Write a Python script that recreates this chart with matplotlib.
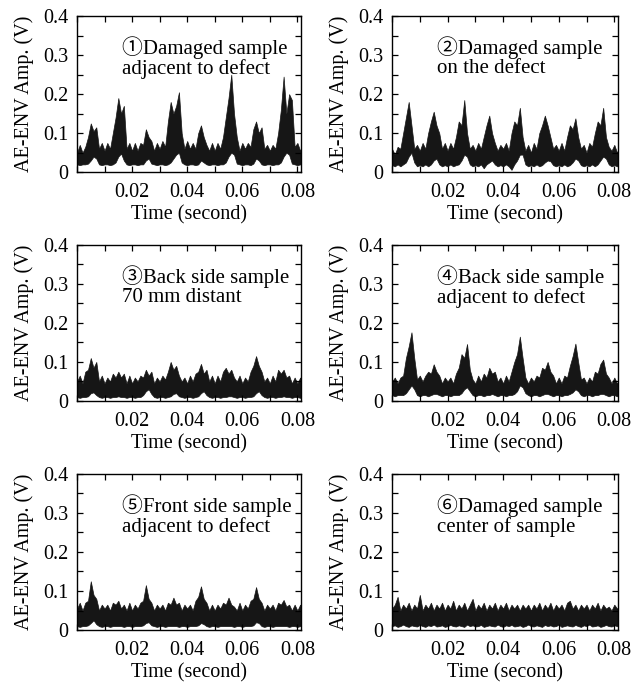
import numpy as np
import matplotlib
matplotlib.use("Agg")
import matplotlib.pyplot as plt
from matplotlib.ticker import MultipleLocator

plt.rcParams['font.family'] = ['Liberation Serif', 'Noto Sans CJK JP', 'DejaVu Sans']
plt.rcParams['font.size'] = 14.5

# time axis in seconds, one reading per millisecond
t_ms = np.arange(0, 83)
t = t_ms / 1000.0

labels = [
    "\u2460Damaged sample\nadjacent to defect",
    "\u2461Damaged sample\non the defect",
    "\u2462Back side sample\n70 mm distant",
    "\u2463Back side sample\nadjacent to defect",
    "\u2464Front side sample\nadjacent to defect",
    "\u2465Damaged sample\ncenter of sample",
]

# upper / lower envelope of the AE-ENV signal (V)
upper1 = [0.05, 0.07, 0.05, 0.065, 0.09, 0.125, 0.105, 0.115, 0.06, 0.075,
          0.055, 0.075, 0.06, 0.1, 0.14, 0.19, 0.15, 0.17, 0.06, 0.075,
          0.055, 0.075, 0.055, 0.075, 0.07, 0.11, 0.09, 0.08, 0.055, 0.075,
          0.06, 0.08, 0.065, 0.13, 0.18, 0.15, 0.17, 0.205, 0.1, 0.06,
          0.08, 0.06, 0.075, 0.06, 0.1, 0.12, 0.09, 0.07, 0.055, 0.075,
          0.055, 0.075, 0.06, 0.09, 0.14, 0.19, 0.25, 0.15, 0.09, 0.055,
          0.075, 0.06, 0.075, 0.065, 0.11, 0.13, 0.1, 0.115, 0.06, 0.07,
          0.055, 0.07, 0.06, 0.1, 0.16, 0.245, 0.15, 0.2, 0.185, 0.065,
          0.075, 0.055, 0.07]
lower1 = [0.02, 0.018, 0.02, 0.02, 0.022, 0.03, 0.04, 0.035, 0.02, 0.018,
          0.02, 0.02, 0.018, 0.02, 0.025, 0.04, 0.048, 0.03, 0.02, 0.018,
          0.02, 0.02, 0.018, 0.02, 0.02, 0.03, 0.035, 0.022, 0.02, 0.018,
          0.02, 0.02, 0.018, 0.02, 0.025, 0.035, 0.045, 0.05, 0.025, 0.02,
          0.018, 0.02, 0.02, 0.018, 0.02, 0.03, 0.025, 0.02, 0.018, 0.02,
          0.02, 0.018, 0.02, 0.02, 0.025, 0.04, 0.05, 0.045, 0.022, 0.02,
          0.018, 0.02, 0.02, 0.018, 0.022, 0.035, 0.03, 0.02, 0.018, 0.02,
          0.02, 0.018, 0.02, 0.02, 0.025, 0.04, 0.05, 0.045, 0.022, 0.02,
          0.018, 0.02, 0.02]

upper2 = [0.06, 0.045, 0.065, 0.06, 0.1, 0.14, 0.18, 0.12, 0.06, 0.07,
          0.055, 0.075, 0.06, 0.1, 0.13, 0.155, 0.12, 0.1, 0.06, 0.075,
          0.055, 0.075, 0.06, 0.09, 0.13, 0.12, 0.185, 0.1, 0.06, 0.07,
          0.055, 0.075, 0.06, 0.09, 0.12, 0.145, 0.1, 0.075, 0.055, 0.07,
          0.06, 0.075, 0.055, 0.1, 0.13, 0.12, 0.165, 0.09, 0.055, 0.07,
          0.05, 0.075, 0.06, 0.1, 0.12, 0.145, 0.12, 0.09, 0.06, 0.07,
          0.055, 0.075, 0.055, 0.09, 0.12, 0.11, 0.138, 0.09, 0.06, 0.07,
          0.05, 0.075, 0.065, 0.1, 0.13, 0.12, 0.165, 0.09, 0.065, 0.055,
          0.07, 0.05, 0.065]
lower2 = [0.018, 0.015, 0.02, 0.015, 0.02, 0.025, 0.04, 0.05, 0.025, 0.015,
          0.018, 0.015, 0.02, 0.015, 0.02, 0.03, 0.035, 0.02, 0.015, 0.018,
          0.015, 0.02, 0.015, 0.018, 0.02, 0.03, 0.045, 0.04, 0.02, 0.015,
          0.018, 0.015, 0.02, 0.01, 0.02, 0.025, 0.03, 0.02, 0.015, 0.018,
          0.015, 0.02, 0.015, 0.006, 0.02, 0.03, 0.045, 0.045, 0.02, 0.015,
          0.018, 0.015, 0.02, 0.015, 0.018, 0.025, 0.03, 0.028, 0.018, 0.015,
          0.018, 0.015, 0.02, 0.015, 0.018, 0.025, 0.035, 0.03, 0.018, 0.015,
          0.018, 0.015, 0.02, 0.015, 0.02, 0.03, 0.04, 0.035, 0.02, 0.015,
          0.018, 0.015, 0.018]

upper3 = [0.05, 0.065, 0.045, 0.075, 0.08, 0.11, 0.085, 0.1, 0.05, 0.065,
          0.045, 0.06, 0.05, 0.07, 0.06, 0.075, 0.06, 0.07, 0.045, 0.065,
          0.045, 0.06, 0.05, 0.065, 0.06, 0.08, 0.065, 0.075, 0.045, 0.06,
          0.05, 0.065, 0.055, 0.075, 0.1, 0.08, 0.09, 0.065, 0.05, 0.06,
          0.045, 0.065, 0.05, 0.07, 0.075, 0.095, 0.07, 0.08, 0.05, 0.065,
          0.045, 0.065, 0.05, 0.075, 0.085, 0.07, 0.08, 0.06, 0.05, 0.065,
          0.045, 0.06, 0.05, 0.075, 0.09, 0.115, 0.09, 0.075, 0.05, 0.06,
          0.045, 0.065, 0.05, 0.08, 0.07, 0.08, 0.06, 0.065, 0.045, 0.06,
          0.045, 0.06, 0.05]
lower3 = [0.01, 0.008, 0.01, 0.01, 0.012, 0.02, 0.022, 0.015, 0.01, 0.008,
          0.01, 0.01, 0.008, 0.01, 0.01, 0.012, 0.01, 0.01, 0.008, 0.01,
          0.01, 0.008, 0.01, 0.01, 0.015, 0.025, 0.03, 0.018, 0.01, 0.008,
          0.01, 0.01, 0.008, 0.01, 0.012, 0.018, 0.02, 0.012, 0.01, 0.008,
          0.01, 0.01, 0.008, 0.01, 0.012, 0.02, 0.025, 0.015, 0.01, 0.008,
          0.01, 0.01, 0.008, 0.01, 0.01, 0.012, 0.012, 0.01, 0.008, 0.01,
          0.01, 0.008, 0.01, 0.01, 0.012, 0.02, 0.025, 0.015, 0.01, 0.008,
          0.01, 0.01, 0.008, 0.01, 0.01, 0.012, 0.01, 0.01, 0.008, 0.01,
          0.01, 0.008, 0.01]

upper4 = [0.05, 0.06, 0.045, 0.06, 0.065, 0.11, 0.14, 0.176, 0.11, 0.055,
          0.065, 0.05, 0.065, 0.075, 0.07, 0.094, 0.075, 0.065, 0.045, 0.06,
          0.05, 0.06, 0.045, 0.07, 0.085, 0.12, 0.11, 0.146, 0.08, 0.055,
          0.045, 0.065, 0.05, 0.07, 0.06, 0.085, 0.07, 0.075, 0.05, 0.06,
          0.045, 0.065, 0.05, 0.075, 0.1, 0.12, 0.165, 0.11, 0.06, 0.045,
          0.06, 0.05, 0.065, 0.06, 0.085, 0.08, 0.1, 0.075, 0.065, 0.045,
          0.06, 0.045, 0.065, 0.06, 0.09, 0.115, 0.147, 0.1, 0.055, 0.06,
          0.045, 0.06, 0.05, 0.075, 0.07, 0.095, 0.106, 0.07, 0.06, 0.045,
          0.06, 0.045, 0.055]
lower4 = [0.015, 0.012, 0.015, 0.015, 0.015, 0.02, 0.03, 0.04, 0.03, 0.015,
          0.012, 0.015, 0.015, 0.012, 0.015, 0.018, 0.018, 0.015, 0.012, 0.015,
          0.015, 0.012, 0.015, 0.015, 0.015, 0.02, 0.03, 0.035, 0.025, 0.015,
          0.012, 0.015, 0.015, 0.012, 0.015, 0.015, 0.018, 0.015, 0.012, 0.015,
          0.015, 0.012, 0.015, 0.015, 0.018, 0.025, 0.04, 0.035, 0.02, 0.015,
          0.012, 0.015, 0.015, 0.012, 0.015, 0.018, 0.018, 0.015, 0.012, 0.015,
          0.015, 0.012, 0.015, 0.015, 0.018, 0.022, 0.03, 0.025, 0.015, 0.012,
          0.015, 0.015, 0.012, 0.015, 0.015, 0.018, 0.018, 0.015, 0.012, 0.015,
          0.015, 0.012, 0.015]

upper5 = [0.055, 0.07, 0.05, 0.07, 0.075, 0.125, 0.09, 0.08, 0.05, 0.065,
          0.055, 0.065, 0.05, 0.07, 0.065, 0.075, 0.055, 0.065, 0.05, 0.07,
          0.05, 0.065, 0.055, 0.07, 0.075, 0.115, 0.08, 0.07, 0.05, 0.065,
          0.055, 0.065, 0.05, 0.07, 0.065, 0.083, 0.065, 0.07, 0.05, 0.065,
          0.055, 0.065, 0.05, 0.075, 0.085, 0.112, 0.08, 0.07, 0.05, 0.065,
          0.05, 0.065, 0.055, 0.07, 0.065, 0.083, 0.065, 0.06, 0.05, 0.07,
          0.05, 0.065, 0.055, 0.075, 0.08, 0.11, 0.08, 0.07, 0.05, 0.065,
          0.055, 0.065, 0.05, 0.07, 0.065, 0.077, 0.06, 0.065, 0.05, 0.065,
          0.05, 0.065, 0.055]
lower5 = [0.01, 0.008, 0.01, 0.01, 0.012, 0.018, 0.025, 0.015, 0.01, 0.008,
          0.01, 0.01, 0.008, 0.01, 0.01, 0.01, 0.01, 0.008, 0.01, 0.01,
          0.008, 0.01, 0.01, 0.01, 0.012, 0.018, 0.02, 0.012, 0.01, 0.008,
          0.01, 0.01, 0.008, 0.01, 0.01, 0.01, 0.01, 0.008, 0.01, 0.01,
          0.008, 0.01, 0.01, 0.01, 0.012, 0.018, 0.015, 0.01, 0.008, 0.01,
          0.01, 0.008, 0.01, 0.01, 0.01, 0.01, 0.01, 0.008, 0.01, 0.01,
          0.008, 0.01, 0.01, 0.01, 0.012, 0.02, 0.018, 0.01, 0.008, 0.01,
          0.01, 0.008, 0.01, 0.01, 0.01, 0.01, 0.01, 0.008, 0.01, 0.01,
          0.008, 0.01, 0.01]

upper6 = [0.055, 0.065, 0.085, 0.05, 0.065, 0.055, 0.07, 0.05, 0.065, 0.055,
          0.09, 0.05, 0.065, 0.055, 0.07, 0.05, 0.065, 0.055, 0.07, 0.05,
          0.065, 0.055, 0.075, 0.05, 0.065, 0.055, 0.07, 0.05, 0.065, 0.08,
          0.05, 0.065, 0.055, 0.07, 0.05, 0.065, 0.055, 0.07, 0.05, 0.065,
          0.055, 0.07, 0.05, 0.065, 0.055, 0.065, 0.05, 0.065, 0.055, 0.065,
          0.05, 0.065, 0.055, 0.07, 0.05, 0.065, 0.055, 0.07, 0.05, 0.065,
          0.055, 0.065, 0.05, 0.07, 0.075, 0.055, 0.065, 0.05, 0.065, 0.055,
          0.065, 0.05, 0.065, 0.055, 0.07, 0.05, 0.065, 0.055, 0.06, 0.05,
          0.065, 0.055, 0.06]
lower6 = [0.01, 0.012, 0.008, 0.01, 0.014, 0.01, 0.008, 0.012, 0.01, 0.009,
          0.013, 0.01, 0.008, 0.012, 0.01, 0.014, 0.009, 0.01, 0.012, 0.008,
          0.01, 0.013, 0.01, 0.009, 0.012, 0.01, 0.008, 0.014, 0.01, 0.012,
          0.009, 0.01, 0.013, 0.008, 0.01, 0.012, 0.01, 0.009, 0.014, 0.01,
          0.008, 0.012, 0.01, 0.013, 0.009, 0.01, 0.012, 0.008, 0.01, 0.014,
          0.01, 0.009, 0.012, 0.01, 0.008, 0.013, 0.01, 0.012, 0.009, 0.01,
          0.014, 0.008, 0.01, 0.012, 0.01, 0.009, 0.013, 0.01, 0.008, 0.012,
          0.01, 0.014, 0.009, 0.01, 0.012, 0.008, 0.01, 0.013, 0.01, 0.009,
          0.012, 0.01, 0.008]

uppers = [upper1, upper2, upper3, upper4, upper5, upper6]
lowers = [lower1, lower2, lower3, lower4, lower5, lower6]

fig = plt.figure(figsize=(6.39, 6.86), dpi=100)

lefts = [0.1205, 0.6135]
width_ax = [0.3505, 0.3535]
bottoms = [0.749, 0.4155, 0.0816]
height = 0.2275

for i in range(6):
    r, c = divmod(i, 2)
    ax = fig.add_axes([lefts[c], bottoms[r], width_ax[c], height])
    ax.fill_between(t, lowers[i], uppers[i], color='#161616', lw=0.5,
                    edgecolor='#161616')
    ax.set_xlim(0, 0.0813)
    ax.set_ylim(0, 0.4)
    ax.xaxis.set_minor_locator(MultipleLocator(0.01))
    ax.yaxis.set_minor_locator(MultipleLocator(0.05))
    ax.set_xticks([0.02, 0.04, 0.06, 0.08])
    ax.set_xticklabels(['0.02', '0.04', '0.06', '0.08'])
    ax.set_yticks([0, 0.1, 0.2, 0.3, 0.4])
    ax.set_yticklabels(['0', '0.1', '0.2', '0.3', '0.4'])
    ax.tick_params(which='both', direction='in', top=True, right=True,
                   length=4.5, width=0.9)
    ax.tick_params(axis='x', pad=8)
    ax.tick_params(axis='y', pad=6)
    for s in ax.spines.values():
        s.set_linewidth(1.0)
    ax.set_xlabel('Time (second)', labelpad=2)
    ax.set_ylabel('AE-ENV Amp. (V)', labelpad=7)
    ax.text(0.2, 0.87, labels[i], transform=ax.transAxes, va='top',
            ha='left', fontsize=15, linespacing=1.02)

fig.savefig('out.png', dpi=100)
